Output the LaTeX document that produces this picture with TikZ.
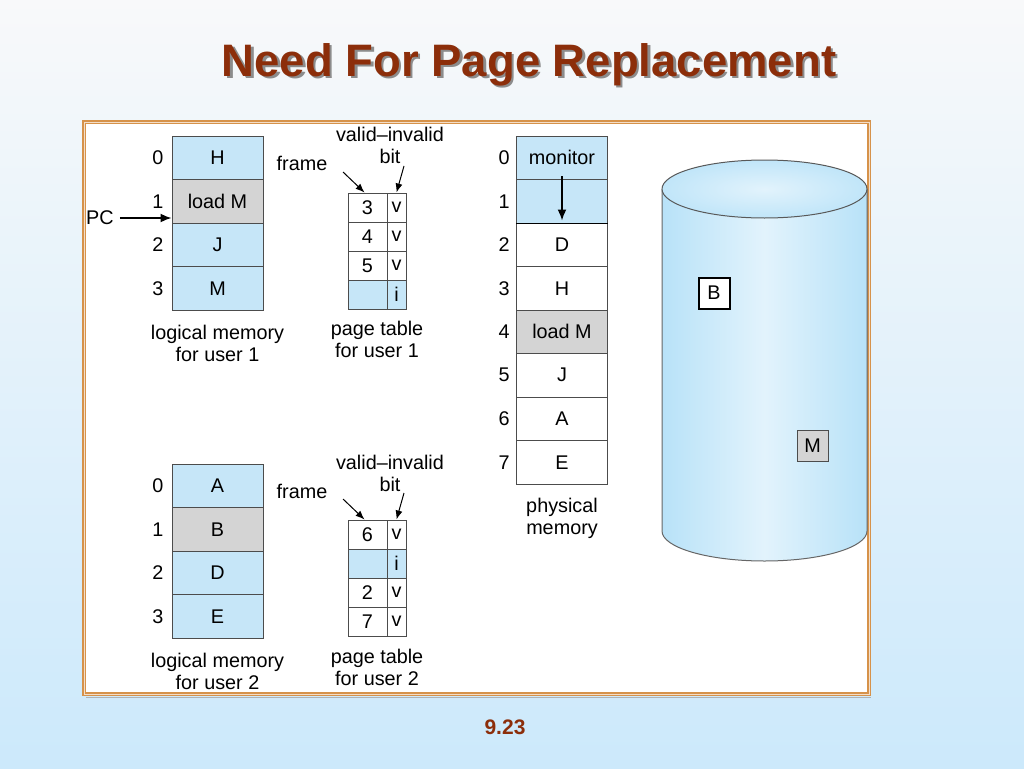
\documentclass[tikz,border=0pt]{standalone}
\usepackage{fontspec}
\setmainfont{Liberation Sans}
\usetikzlibrary{arrows.meta}

\definecolor{cellblue}{RGB}{198,230,248}
\definecolor{cellgray}{RGB}{212,212,212}
\definecolor{titlered}{RGB}{140,46,10}
\definecolor{frameorange}{RGB}{214,146,74}
\definecolor{skyblue}{RGB}{204,233,251}
\definecolor{diskblue}{RGB}{184,226,248}
\definecolor{disklight}{RGB}{226,243,252}

\newcommand\labelfont{\fontsize{19.8}{22}\selectfont}
\newcommand\shadowed[1]{\makebox[0pt][l]{\hspace{2.5pt}\raisebox{-2.5pt}{\color{black!45}#1}}#1}

\tikzset{
  cell/.style={draw=black!70, line width=1pt, inner sep=0pt,
    minimum width=91pt, minimum height=43.5pt, font=\labelfont},
  bluecell/.style={cell, fill=cellblue},
  graycell/.style={cell, fill=cellgray},
  whitecell/.style={cell, fill=white},
  frcell/.style={draw=black!70, line width=1pt, inner sep=0pt,
    minimum width=39pt, minimum height=29pt, font=\labelfont},
  bitcell/.style={frcell, minimum width=19pt},
  txt/.style={inner sep=0pt, font=\labelfont, align=center},
  arrow/.style={-{Latex[length=11pt,width=9pt]}, line width=1.6pt},
  thinarrow/.style={-{Latex[length=9pt,width=7pt]}, line width=1pt}
}

\begin{document}
\begin{tikzpicture}[x=1pt, y=-1pt]
  \useasboundingbox (0, 0) rectangle (1024, 768);
  \shade [top color={rgb,255:red,248;green,249;blue,250}, bottom color=skyblue]
    (0, 0) rectangle (1024, 768);

  % title and page number
  \node [text=titlered, font=\fontsize{45.5}{50}\selectfont\bfseries] (t) at (529, 66) {\shadowed{Need For Page Replacement}};
  \node [text=titlered, font=\fontsize{21}{24}\selectfont\bfseries] (pg) at (505, 727) {9.23};

  % frame
  \draw [black!30, line width=1pt] (86, 697) -- (871, 697);
  \draw [fill=white, draw=frameorange, line width=3.6pt] (84, 122) rectangle (869, 694);
  \draw [draw=frameorange!30, line width=0.8pt] (84, 122) rectangle (869, 694);

  % disk
  \shade [left color=diskblue, right color=diskblue, middle color=disklight]
    (662, 189) -- (662, 531) arc [start angle=180, end angle=360, x radius=102.5pt, y radius=30pt]
    -- (867, 189) arc [start angle=0, end angle=180, x radius=102.5pt, y radius=29pt];
  \draw [black!60, line width=1pt]
    (662, 189) -- (662, 531) arc [start angle=180, end angle=360, x radius=102.5pt, y radius=30pt]
    -- (867, 189);
  \shade [inner color=disklight, outer color=diskblue!80!disklight] (764.5, 189) ellipse [x radius=102.5pt, y radius=29pt];
  \draw [black!65, line width=1pt] (764.5, 189) ellipse [x radius=102.5pt, y radius=29pt];
  \node [draw, fill=white, line width=2pt, minimum size=31pt, inner sep=0pt, font=\labelfont] (B) at (714, 293) {B};
  \node [draw=black!70, fill=cellgray, line width=1pt, minimum size=31pt, inner sep=0pt, font=\labelfont] (M) at (812.5, 445.5) {M};

  % logical memory for user 1
  \node [bluecell] (l10) at (217.5, 157.75) {H};
  \node [graycell] (l11) at (217.5, 201.25) {load M};
  \node [bluecell] (l12) at (217.5, 244.75) {J};
  \node [bluecell] (l13) at (217.5, 288.25) {M};
  \node [txt] (i10) at (158, 157.75) {0};
  \node [txt] (i11) at (158, 201.25) {1};
  \node [txt] (i12) at (158, 244.75) {2};
  \node [txt] (i13) at (158, 288.25) {3};
  \node [txt] (lm1) at (217.5, 343) {logical memory\\for user 1};

  \node [txt] (pc) at (100, 218) {PC};
  \draw [arrow] ([xshift=6pt]pc.east) -- (pc.east -| l11.west);

  % page table for user 1
  \node [frcell, fill=white] (f10) at (367.5, 207.5) {3};
  \node [bitcell, fill=white] (b10) at (396.5, 207.5) {v};
  \node [frcell, fill=white] (f11) at (367.5, 236.5) {4};
  \node [bitcell, fill=white] (b11) at (396.5, 236.5) {v};
  \node [frcell, fill=white] (f12) at (367.5, 265.5) {5};
  \node [bitcell, fill=white] (b12) at (396.5, 265.5) {v};
  \node [frcell, fill=cellblue] (f13) at (367.5, 294.5) {};
  \node [bitcell, fill=cellblue] (b13) at (396.5, 294.5) {i};
  \node [txt] (pt1) at (377, 339) {page table\\for user 1};

  \node [txt] (fr1) at (302, 163) {frame};
  \node [txt] (vi1) at (390, 145.5) {valid--invalid\\bit};
  \coordinate (fa1) at (343, 172);
  \coordinate (ba1) at (404, 166);
  \draw [thinarrow] (fa1) -- ([xshift=-3pt]f10.north);
  \draw [thinarrow] (ba1) -- (b10.north);

  % logical memory for user 2
  \node [bluecell] (l20) at (217.5, 485.75) {A};
  \node [graycell] (l21) at (217.5, 529.25) {B};
  \node [bluecell] (l22) at (217.5, 572.75) {D};
  \node [bluecell] (l23) at (217.5, 616.25) {E};
  \node [txt] (i20) at (158, 485.75) {0};
  \node [txt] (i21) at (158, 529.25) {1};
  \node [txt] (i22) at (158, 572.75) {2};
  \node [txt] (i23) at (158, 616.25) {3};
  \node [txt] (lm2) at (217.5, 671) {logical memory\\for user 2};

  % page table for user 2
  \node [frcell, fill=white] (f20) at (367.5, 534.5) {6};
  \node [bitcell, fill=white] (b20) at (396.5, 534.5) {v};
  \node [frcell, fill=cellblue] (f21) at (367.5, 563.5) {};
  \node [bitcell, fill=cellblue] (b21) at (396.5, 563.5) {i};
  \node [frcell, fill=white] (f22) at (367.5, 592.5) {2};
  \node [bitcell, fill=white] (b22) at (396.5, 592.5) {v};
  \node [frcell, fill=white] (f23) at (367.5, 621.5) {7};
  \node [bitcell, fill=white] (b23) at (396.5, 621.5) {v};
  \node [txt] (pt2) at (377, 667) {page table\\for user 2};

  \node [txt] (fr2) at (302, 491) {frame};
  \node [txt] (vi2) at (390, 473.5) {valid--invalid\\bit};
  \coordinate (fa2) at (343, 499);
  \coordinate (ba2) at (404, 493);
  \draw [thinarrow] (fa2) -- ([xshift=-3pt]f20.north);
  \draw [thinarrow] (ba2) -- (b20.north);

  % physical memory
  \node [bluecell] (p0) at (562, 157.75) {monitor};
  \node [bluecell] (p1) at (562, 201.25) {};
  \node [whitecell] (p2) at (562, 244.75) {D};
  \node [whitecell] (p3) at (562, 288.25) {H};
  \node [graycell] (p4) at (562, 331.75) {load M};
  \node [whitecell] (p5) at (562, 375.25) {J};
  \node [whitecell] (p6) at (562, 418.75) {A};
  \node [whitecell] (p7) at (562, 462.25) {E};
  \draw [line width=1.6pt] (p1.south west) -- (p1.south east);
  \draw [arrow] ([yshift=4pt]p0.south) -- ([yshift=3pt]p1.south);
  \node [txt] (j0) at (504, 157.75) {0};
  \node [txt] (j1) at (504, 201.25) {1};
  \node [txt] (j2) at (504, 244.75) {2};
  \node [txt] (j3) at (504, 288.25) {3};
  \node [txt] (j4) at (504, 331.75) {4};
  \node [txt] (j5) at (504, 375.25) {5};
  \node [txt] (j6) at (504, 418.75) {6};
  \node [txt] (j7) at (504, 462.25) {7};
  \node [txt] (pm) at (562, 518) {physical\\memory};
\end{tikzpicture}
\end{document}
